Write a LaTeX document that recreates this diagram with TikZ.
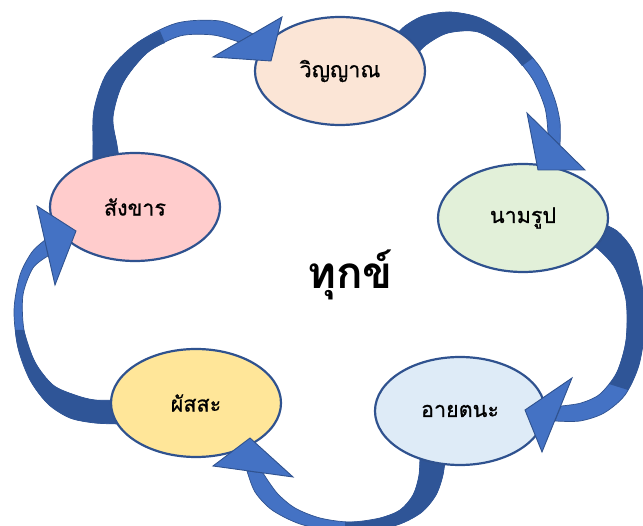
\documentclass[tikz,border=0pt]{standalone}
\usepackage{fontspec}
\usetikzlibrary{shapes.geometric}
\newfontfamily\thai[Script=Thai]{Loma}
\newfontfamily\thaimid[Script=Thai,FakeBold=0.9]{Loma}
\definecolor{adark}{HTML}{2F5597}
\definecolor{alight}{HTML}{4472C4}
\definecolor{aline}{HTML}{2F528F}
\definecolor{fV}{HTML}{FBE5D6}
\definecolor{fN}{HTML}{E2F0D9}
\definecolor{fA}{HTML}{DEEBF7}
\definecolor{fP}{HTML}{FFE699}
\definecolor{fS}{HTML}{FFCCCC}
\begin{document}
\begin{tikzpicture}[x=1pt,y=-1pt,
  bubble/.style={ellipse, draw=aline, line width=2.2pt, minimum width=170pt, minimum height=108pt, inner sep=0pt, font=\thaimid\fontsize{21.5}{21.5}\selectfont},
  shaftlight/.style={fill=alight, draw=aline, line width=0.7pt, line join=round},
  shaftdark/.style={fill=adark},
  headtri/.style={fill=alight, draw=aline, line width=0.9pt, line join=miter},
]
\useasboundingbox (0,0) rectangle (643,526);
\clip (0,0) rectangle (643,526);

% ---------- shafts ----------
% arrow 1: S -> V
\draw[shaftlight] plot[smooth] coordinates {(93,172) (93,145) (94,110) (107,73) (137,43) (177,23) (220,21) (253,34)}
  -- plot[smooth] coordinates {(239,42) (213,35) (180,36) (147,53) (123,83) (113,117) (117,145) (121,170)} -- cycle;
\fill[shaftdark] plot[smooth] coordinates {(93,172) (93,145) (94,110) (107,73) (137,43) (160,31)}
  -- plot[smooth] coordinates {(165,43) (147,53) (123,83) (113,117) (117,145) (121,170)} -- cycle;

% arrow 2: V -> N
\draw[shaftlight] plot[smooth] coordinates {(395,36) (405,26) (423,16) (450,12) (480,18) (513,38) (540,67) (554,97) (560,122) (560,145)}
  -- plot[smooth] coordinates {(548,134) (545,108) (532,78) (508,50) (478,32) (448,33) (426,45) (412,60)} -- cycle;
\fill[shaftdark] plot[smooth] coordinates {(395,36) (405,26) (423,16) (450,12) (480,18) (513,38) (533,58)}
  -- plot[smooth] coordinates {(522,66) (508,50) (478,32) (448,33) (426,45) (412,60)} -- cycle;

% arrow 3: N -> A
\draw[shaftlight] plot[smooth] coordinates {(598,222) (617,231) (633,251) (642,285) (645,325) (639,365) (625,395) (604,413) (580,421) (555,421)}
  -- plot[smooth] coordinates {(561,406) (581,403) (600,394) (617,372) (626,340) (626,300) (615,268) (598,249) (588,244)} -- cycle;
\fill[shaftdark] plot[smooth] coordinates {(598,222) (617,231) (633,251) (642,285) (645,325) (639,365) (628,390)}
  -- plot[smooth] coordinates {(609,384) (617,372) (626,340) (626,300) (615,268) (598,249) (588,244)} -- cycle;

% arrow 4: A -> P
\draw[shaftlight] plot[smooth] coordinates {(446,452) (443,475) (436,495) (422,512) (400,524) (370,531) (335,531) (300,524) (272,510) (255,492) (247,471)}
  -- plot[smooth] coordinates {(263,473) (277,493) (295,508) (320,518) (350,522) (380,518) (400,510) (413,495) (419,475) (420,452)} -- cycle;
\fill[shaftdark] plot[smooth] coordinates {(446,452) (443,475) (436,495) (422,512) (400,524) (370,531) (345,532)}
  -- plot[smooth] coordinates {(345,522) (365,521) (380,518) (400,510) (413,495) (419,475) (420,452)} -- cycle;

% arrow 5: P -> S
\draw[shaftlight] plot[smooth] coordinates {(122,424) (95,423) (70,418) (48,404) (30,380) (18,348) (14,310) (20,275) (32,252) (45,240)}
  -- plot[smooth] coordinates {(48,256) (33,268) (23,295) (24,330) (35,362) (53,385) (75,395) (95,400) (122,400)} -- cycle;
\fill[shaftdark] plot[smooth] coordinates {(122,424) (95,423) (70,418) (48,404) (30,380) (18,348) (15,330)}
  -- plot[smooth] coordinates {(24,330) (35,362) (53,385) (75,395) (95,400) (122,400)} -- cycle;

% ---------- bubbles ----------
\node[bubble, fill=fV] (V) at (340,71) {วิญญาณ};
\node[bubble, fill=fN] (N) at (523,218) {นามรูป};
\node[bubble, fill=fA] (A) at (460,411) {อายตนะ};
\node[bubble, fill=fP] (P) at (196,403) {ผัสสะ};
\node[bubble, fill=fS] (S) at (135,207) {สังขาร};

\node (D) at (350,275) {\thai\bfseries\fontsize{44}{44}\selectfont ทุกข์};

% ---------- heads ----------
\coordinate (h1a) at (213,57); \coordinate (h1t) at (271,61); \coordinate (h1b) at (282,17);
\coordinate (h2a) at (527,113); \coordinate (h2t) at (538,170); \coordinate (h2b) at (585,170);
\coordinate (h3a) at (572,378); \coordinate (h3t) at (525,410); \coordinate (h3b) at (542,452);
\coordinate (h4a) at (293,477); \coordinate (h4t) at (250,438); \coordinate (h4b) at (213,466);
\coordinate (h5a) at (55,285); \coordinate (h5t) at (76,231); \coordinate (h5b) at (37,206);
\draw[headtri] (h1a) -- (h1t) -- (h1b) -- cycle;
\draw[headtri] (h2a) -- (h2t) -- (h2b) -- cycle;
\draw[headtri] (h3a) -- (h3t) -- (h3b) -- cycle;
\draw[headtri] (h4a) -- (h4t) -- (h4b) -- cycle;
\draw[headtri] (h5a) -- (h5t) -- (h5b) -- cycle;
\end{tikzpicture}
\end{document}
